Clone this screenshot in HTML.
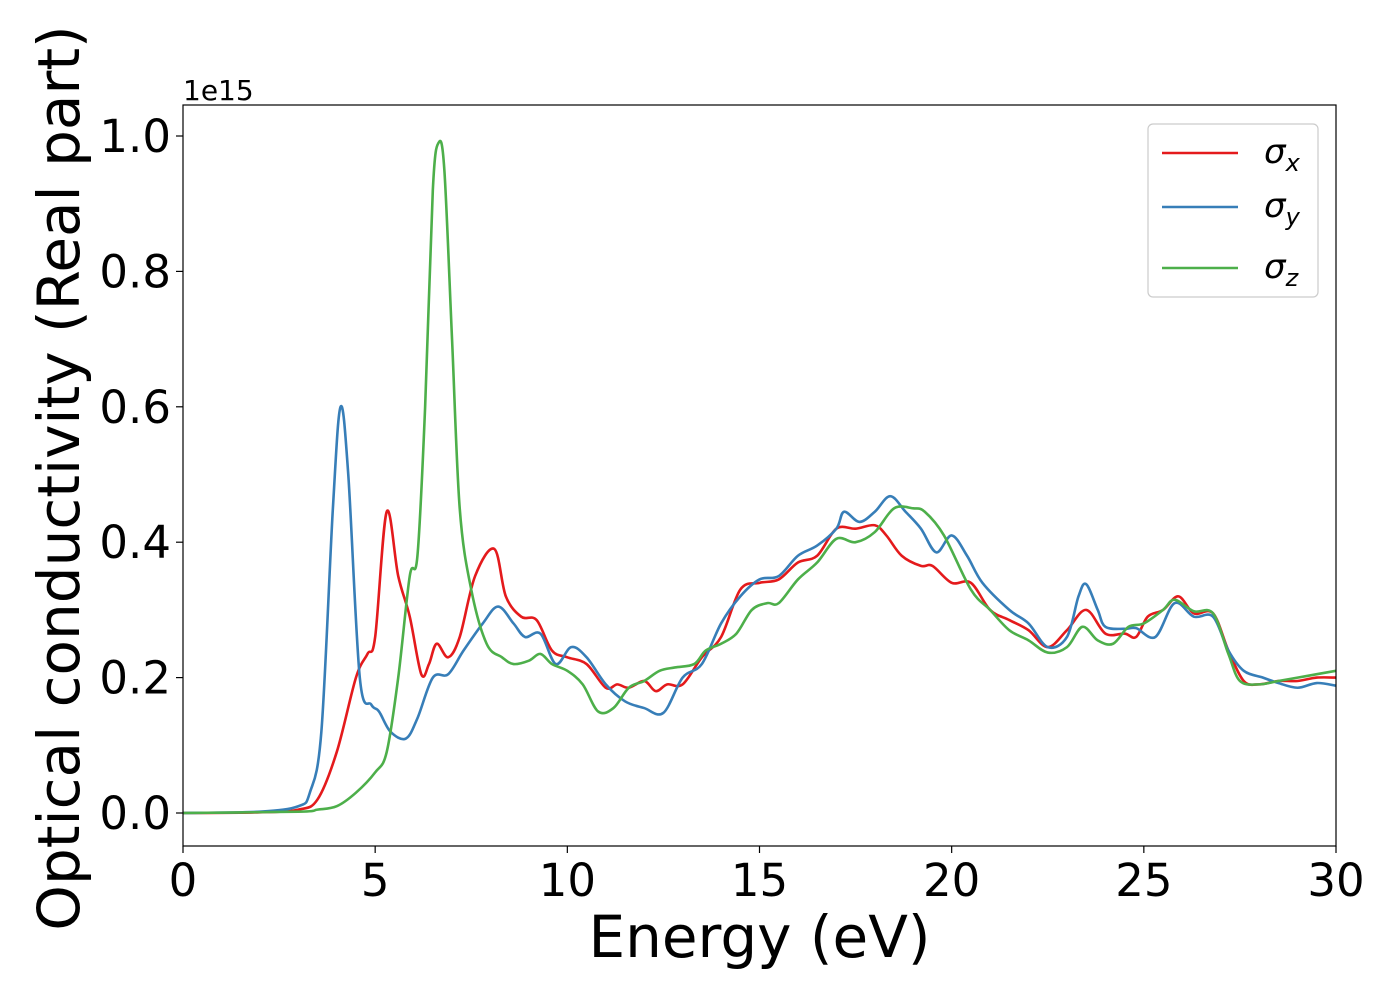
<!DOCTYPE html>
<html><head><meta charset="utf-8"><style>
html,body{margin:0;padding:0;background:#fff;}
svg{display:block;font-family:"DejaVu Sans","Liberation Sans",sans-serif;}
</style></head><body>
<svg id="chart" width="1400" height="1000" xmlns="http://www.w3.org/2000/svg">
<g id="plot"></g>
</svg>
<script>
const xTicks=[0,5,10,15,20,25,30];
const yTicks=[0,0.2,0.4,0.6,0.8,1.0];
const yTickLabels=["0.0","0.2","0.4","0.6","0.8","1.0"];
const seriesNames=["σx","σy","σz"];
const sxE=[0,2,3,3.5,4,4.5,4.8,5.0,5.3,5.6,5.9,6.2,6.4,6.6,6.9,7.2,7.6,8.1,8.4,8.8,9.2,9.6,10,10.5,11,11.3,11.6,12,12.3,12.6,13,13.5,14,14.5,15,15.5,16,16.5,17,17.5,18,18.3,18.7,19.2,19.5,20,20.5,21,21.5,22,22.5,23,23.5,24,24.5,24.8,25.1,25.5,25.9,26.3,26.8,27.2,27.6,28,28.5,29,29.5,30];
const sxV=[0,0.001,0.005,0.02,0.09,0.2,0.235,0.26,0.445,0.35,0.29,0.205,0.22,0.25,0.23,0.26,0.35,0.39,0.32,0.29,0.285,0.24,0.23,0.22,0.185,0.19,0.185,0.195,0.18,0.19,0.19,0.23,0.26,0.33,0.34,0.345,0.37,0.38,0.42,0.42,0.425,0.41,0.38,0.365,0.365,0.34,0.34,0.3,0.285,0.27,0.245,0.27,0.3,0.265,0.265,0.26,0.29,0.3,0.32,0.295,0.295,0.24,0.195,0.19,0.195,0.195,0.2,0.2];
const syE=[0,2,3,3.3,3.6,3.9,4.1,4.3,4.6,4.9,5.1,5.4,5.8,6.1,6.5,6.9,7.3,7.8,8.2,8.6,8.9,9.3,9.7,10.1,10.5,11,11.5,12,12.5,13,13.5,14,14.5,15,15.5,16,16.5,17,17.2,17.6,18,18.4,18.8,19.2,19.6,20,20.4,20.8,21.5,22,22.5,23,23.3,23.5,23.8,24,24.5,24.8,25.3,25.8,26.3,26.8,27.2,27.6,28.1,28.5,29,29.5,30];
const syV=[0,0.002,0.01,0.03,0.12,0.45,0.6,0.5,0.2,0.16,0.15,0.12,0.11,0.14,0.2,0.205,0.24,0.28,0.305,0.28,0.26,0.265,0.22,0.245,0.23,0.19,0.165,0.155,0.148,0.2,0.22,0.28,0.32,0.345,0.35,0.38,0.395,0.42,0.445,0.43,0.445,0.468,0.445,0.42,0.385,0.41,0.38,0.34,0.3,0.28,0.245,0.26,0.32,0.338,0.3,0.275,0.272,0.273,0.26,0.31,0.29,0.29,0.24,0.21,0.2,0.192,0.185,0.192,0.188];
const szE=[0,3,3.5,4,4.5,5,5.3,5.6,5.9,6.1,6.3,6.5,6.65,6.8,7,7.2,7.5,7.9,8.3,8.6,9,9.3,9.6,10,10.4,10.8,11.2,11.6,12,12.4,12.8,13.3,13.6,14,14.4,14.8,15.2,15.5,16,16.5,17,17.5,18,18.5,19,19.3,19.8,20.5,21,21.5,22,22.5,23,23.4,23.8,24.2,24.6,25,25.5,25.8,26.3,26.8,27.2,27.5,28,28.5,29,29.5,30];
const szV=[0,0.002,0.005,0.01,0.03,0.06,0.09,0.2,0.35,0.38,0.6,0.92,0.99,0.95,0.7,0.45,0.33,0.25,0.23,0.22,0.225,0.235,0.22,0.21,0.19,0.15,0.155,0.185,0.195,0.21,0.215,0.22,0.24,0.25,0.265,0.3,0.31,0.31,0.345,0.37,0.405,0.4,0.415,0.45,0.45,0.445,0.41,0.33,0.3,0.27,0.255,0.237,0.245,0.275,0.255,0.25,0.275,0.28,0.3,0.315,0.298,0.295,0.235,0.195,0.19,0.195,0.2,0.205,0.21];

const L=183,R=1336,T=105,B=846;
const xs=e=>L+(e-0)/(30-0)*(R-L);
const ys=v=>813-v*677;
const NS="http://www.w3.org/2000/svg";
const g=document.getElementById('plot');
function mk(tag,attrs,parent){const el=document.createElementNS(NS,tag);for(const k in attrs)el.setAttribute(k,attrs[k]);(parent||g).appendChild(el);return el;}
function pathFor(E,V){
  const p=E.map((e,i)=>[xs(e),ys(V[i])]);
  let d="M"+p[0][0]+","+p[0][1];
  for(let i=0;i<p.length-1;i++){
    const p0=p[i-1]||p[i],p1=p[i],p2=p[i+1],p3=p[i+2]||p2;
    const c1=[p1[0]+(p2[0]-p0[0])/6,p1[1]+(p2[1]-p0[1])/6];
    const c2=[p2[0]-(p3[0]-p1[0])/6,p2[1]-(p3[1]-p1[1])/6];
    d+=" C"+c1[0]+","+c1[1]+" "+c2[0]+","+c2[1]+" "+p2[0]+","+p2[1];
  }
  return d;
}
const defs=mk('defs',{});
const cp=mk('clipPath',{id:'clip'},defs);
mk('rect',{x:L,y:T,width:R-L,height:B-T},cp);
const colors=["#e41a1c","#377eb8","#4daf4a"];
const data=[[sxE,sxV],[syE,syV],[szE,szV]];
const ids=["series-sigma-x","series-sigma-y","series-sigma-z"];
data.forEach((s,i)=>{
  const p=mk('path',{d:pathFor(s[0],s[1]),fill:'none',stroke:colors[i],'stroke-width':2.6,'clip-path':'url(#clip)'});
  
  
});
const frame=mk('rect',{x:L,y:T,width:R-L,height:B-T,fill:'none',stroke:'#000','stroke-width':1.2});


xTicks.forEach(t=>{
  const x=xs(t);
  mk('line',{x1:x,x2:x,y1:B,y2:B+7,stroke:'#000','stroke-width':1.2});
  const tx=mk('text',{x:x,y:B+50,'font-size':45,'text-anchor':'middle'});
  tx.textContent=t;
  
  
});
yTicks.forEach((t,i)=>{
  const y=ys(t);
  mk('line',{x1:L-7,x2:L,y1:y,y2:y,stroke:'#000','stroke-width':1.2});
  const tx=mk('text',{x:L-12,y:y+16,'font-size':45,'text-anchor':'end'});
  tx.textContent=yTickLabels[i];
  
  
});
const off=mk('text',{x:L,y:100,'font-size':28});
off.textContent="1e15";


const xt=mk('text',{x:(L+R)/2,y:957,'font-size':58,'text-anchor':'middle'});
xt.textContent="Energy (eV)";


const yt=mk('text',{x:0,y:0,'font-size':58,'text-anchor':'middle',transform:'translate(79,478) rotate(-90)'});
yt.textContent="Optical conductivity (Real part)";


const lg=mk('g',{});


mk('rect',{x:1148,y:124,width:170,height:173,rx:5,fill:'#fff',stroke:'#ccc','stroke-width':1.2},lg);
const subs=["x","y","z"],ly=[153,207,268];
subs.forEach((s,i)=>{
  const ln=mk('line',{x1:1162,x2:1238,y1:ly[i],y2:ly[i],stroke:colors[i],'stroke-width':2.6},lg);
  
  
  const t=mk('text',{x:1264,y:ly[i]+10,'font-size':34,'font-style':'italic'},lg);
  
  
  t.textContent="σ";
  const ts=mk('tspan',{'font-size':24,dy:8},t);
  ts.textContent=s;
});
</script>
</body></html>
